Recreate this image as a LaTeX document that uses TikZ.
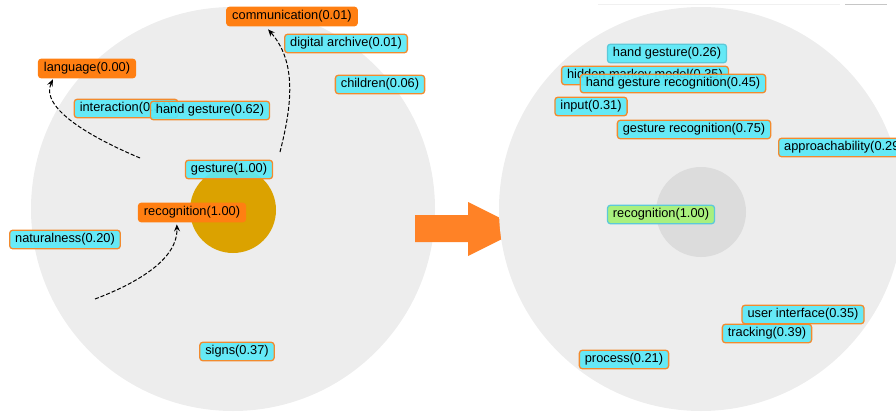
\documentclass[tikz,border=0pt]{standalone}
\usepackage{fontspec}
\setmainfont{Liberation Sans}
\usetikzlibrary{arrows.meta}
\usetikzlibrary{calc}

\definecolor{kwcyan}{HTML}{5AE9F7}
\definecolor{kworange}{HTML}{FF7F12}
\definecolor{kwedge}{HTML}{F28A2E}
\definecolor{kwteal}{HTML}{5CC9D9}
\definecolor{kwgreen}{HTML}{A9F07E}
\definecolor{ringgray}{HTML}{EDEDED}
\definecolor{coregray}{HTML}{DCDCDC}
\definecolor{coregold}{HTML}{DBA200}
\definecolor{bigarrow}{HTML}{FF8226}

\begin{document}
\begin{tikzpicture}[x=1pt,y=-1pt,
        every node/.style={font=\fontsize{12.8}{14}\selectfont},
        word/.style={draw=kwedge,line width=1.3pt,fill=kwcyan,fill opacity=0.92,text opacity=1,
                     rounded corners=3pt,text height=9.5pt,text depth=3pt,inner ysep=3pt,inner xsep=5.5pt},
        picked/.style={word,fill=kworange,draw=kworange,fill opacity=1},
        fresh/.style={word,draw=kwteal},
        core/.style={word,draw=kwteal,fill=kwgreen,fill opacity=1},
        flow/.style={-{Stealth[length=7pt,width=6pt,inset=2.5pt]},dash pattern=on 4pt off 2pt,line width=1pt}]
   \useasboundingbox (0,0) rectangle (896,412);
   % left: before
   \fill[ringgray] (233,209) circle[radius=202pt];
   \fill[coregold] (233,210) circle[radius=43pt];
   \node[picked] (comm) at (292,16.5) {communication(0.01)};
   \node[word] (archive) at (346,43.5) {digital archive(0.01)};
   \node[picked] (lang) at (87,68.5) {language(0.00)};
   \node[word] (kids) at (380,84.5) {children(0.06)};
   \node[word] (inter) at (126,108.5) {interaction(0.31)};
   \node[word] (hand) at (210,110.5) {hand gesture(0.62)};
   \node[word] (gest) at (229,169.5) {gesture(1.00)};
   \node[picked] (recog) at (192,212.5) {recognition(1.00)};
   \node[word] (natural) at (65,239.5) {naturalness(0.20)};
   \node[word] (signs) at (237,351.5) {signs(0.37)};
   \coordinate (l1) at (140,158);
   \coordinate (l2) at (280,152);
   \coordinate (l3) at (95,299);
   \draw[flow] (l1) .. controls (90,137) and (40,108) .. ([xshift=15pt,yshift=-1pt]lang.south west);
   \draw[flow] (l2) .. controls (292,105) and (297,62) .. ([xshift=42pt,yshift=-3pt]comm.south west);
   \draw[flow] (l3) .. controls (140,282) and (178,258) .. ([xshift=39pt,yshift=-2pt]recog.south west);
   % big arrow
   \fill[bigarrow] (415,215) -- (468,215) -- (468,202) -- (522,229) -- (468,256) -- (468,242) -- (415,242) -- cycle;
   % right: after
   \draw[gray!12,line width=1pt] (598,5) -- (840,5);
   \draw[gray!45,line width=1pt] (845,5) -- (887,5);
   \fill[ringgray] (701,209) circle[radius=202pt];
   \fill[coregray] (701,212) circle[radius=45pt];
   \node[fresh] (hand2) at (667,53.5) {hand gesture(0.26)};
   \node[word] (hmm) at (645,75.5) {hidden markov model(0.35)};
   \node[word] (handrec) at (673,83.5) {hand gesture recognition(0.45)};
   \node[word] (input) at (591,106.5) {input(0.31)};
   \node[word] (gestrec) at (694,129.5) {gesture recognition(0.75)};
   \node[word,anchor=west] (approach) at (778,147.5) {approachability(0.29)};
   \node[core] (recog2) at (661,214.5) {recognition(1.00)};
   \node[word] (ui) at (803,314.5) {user interface(0.35)};
   \node[word] (track) at (767,333.5) {tracking(0.39)};
   \node[word] (proc) at (624,359.5) {process(0.21)};
\end{tikzpicture}
\end{document}
